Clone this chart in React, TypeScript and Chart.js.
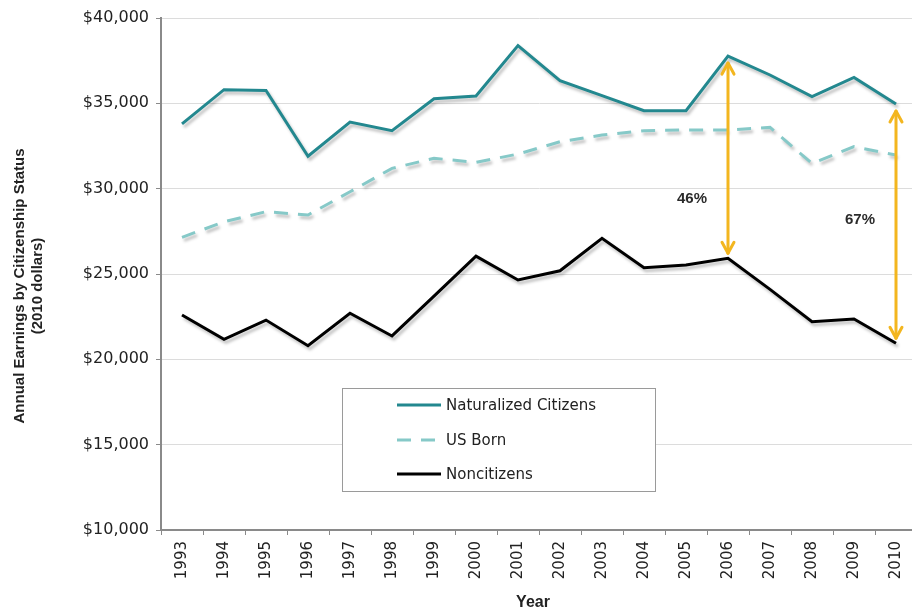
import React, { useEffect, useRef } from 'react';
import { Chart, registerables } from 'chart.js';

Chart.register(...registerables);

const years = ['1993', '1994', '1995', '1996', '1997', '1998', '1999', '2000', '2001', '2002', '2003', '2004', '2005', '2006', '2007', '2008', '2009', '2010'];
const naturalized = [33800, 35800, 35750, 31900, 33900, 33400, 35270, 35430, 38380, 36330, 35450, 34570, 34570, 37770, 36660, 35390, 36520, 34960];
const usBorn = [27150, 28060, 28650, 28460, 29820, 31190, 31780, 31540, 32030, 32750, 33140, 33400, 33440, 33440, 33590, 31480, 32460, 31970];
const noncitizens = [22600, 21170, 22300, 20800, 22700, 21370, 23700, 26050, 24650, 25190, 27090, 25370, 25530, 25920, 24100, 22200, 22360, 20940];

const gapYears = ['2006', '2010'];
const gapLabels = ['46%', '67%'];
const gapLabelValues = [29400, 28150];

const yTitleLines = ['Annual Earnings by Citizenship Status', '(2010 dollars)'];
const xTitle = 'Year';

const FONT = '"Liberation Sans", Arial, sans-serif';
const WIDE = '"DejaVu Sans", sans-serif';

const shadowPlugin = {
  id: 'shadow',
  beforeDatasetsDraw(chart: any) {
    const ctx = chart.ctx;
    ctx.save();
    ctx.shadowColor = 'rgba(0,0,0,0.25)';
    ctx.shadowOffsetX = 2;
    ctx.shadowOffsetY = 3;
    ctx.shadowBlur = 3;
  },
  afterDatasetsDraw(chart: any) {
    chart.ctx.restore();
  },
};

const decorPlugin = {
  id: 'decor',
  afterDraw(chart: any) {
    const ctx = chart.ctx;
    const xs = chart.scales.x;
    const ys = chart.scales.y;

    // gap arrows
    ctx.save();
    gapYears.forEach((yr, k) => {
      const i = years.indexOf(yr);
      const x = xs.getPixelForValue(i);
      const yTop = ys.getPixelForValue(naturalized[i]) + 7;
      const yBot = ys.getPixelForValue(noncitizens[i]) - 5;
      ctx.strokeStyle = '#f3b61f';
      ctx.lineWidth = 3;
      ctx.lineCap = 'round';
      ctx.lineJoin = 'round';
      ctx.beginPath();
      ctx.moveTo(x, yTop);
      ctx.lineTo(x, yBot);
      ctx.stroke();
      ctx.beginPath();
      ctx.moveTo(x - 6, yTop + 11);
      ctx.lineTo(x, yTop);
      ctx.lineTo(x + 6, yTop + 11);
      ctx.stroke();
      ctx.beginPath();
      ctx.moveTo(x - 6, yBot - 11);
      ctx.lineTo(x, yBot);
      ctx.lineTo(x + 6, yBot - 11);
      ctx.stroke();
      ctx.fillStyle = '#2b2b2b';
      ctx.font = `bold 15px ${FONT}`;
      ctx.textAlign = 'center';
      ctx.textBaseline = 'middle';
      ctx.fillText(gapLabels[k], x - 36, ys.getPixelForValue(gapLabelValues[k]));
    });
    ctx.restore();

    // legend box
    ctx.save();
    const bx = 342, by = 388, bw = 313, bh = 103;
    ctx.fillStyle = '#ffffff';
    ctx.fillRect(bx, by, bw, bh);
    ctx.strokeStyle = '#9a9a9a';
    ctx.lineWidth = 1;
    ctx.strokeRect(bx + 0.5, by + 0.5, bw, bh);
    const rows = [405, 440, 474];
    chart.data.datasets.forEach((ds: any, j: number) => {
      const y = rows[j];
      ctx.strokeStyle = ds.borderColor;
      ctx.lineWidth = 3;
      ctx.setLineDash(ds.borderDash || []);
      ctx.beginPath();
      ctx.moveTo(397, y);
      ctx.lineTo(441, y);
      ctx.stroke();
      ctx.setLineDash([]);
      ctx.fillStyle = '#222222';
      ctx.font = `15px ${WIDE}`;
      ctx.textAlign = 'left';
      ctx.textBaseline = 'middle';
      ctx.fillText(ds.label, 446, y + 1);
    });
    ctx.restore();

    // axis titles
    ctx.save();
    ctx.fillStyle = '#222222';
    ctx.font = `bold 15px ${FONT}`;
    ctx.textAlign = 'center';
    ctx.textBaseline = 'middle';
    ctx.translate(20, 286);
    ctx.rotate(-Math.PI / 2);
    ctx.fillText(yTitleLines[0], 0, 0);
    ctx.fillText(yTitleLines[1], 0, 18);
    ctx.restore();

    ctx.save();
    ctx.fillStyle = '#222222';
    ctx.font = `bold 16px ${FONT}`;
    ctx.textAlign = 'center';
    ctx.textBaseline = 'middle';
    ctx.fillText(xTitle, 533, 603);
    ctx.restore();
  },
};

export default function App() {
  const ref = useRef<HTMLCanvasElement>(null);

  useEffect(() => {
    if (!ref.current) return;
    const chart = new Chart(ref.current, {
      type: 'line',
      data: {
        labels: years,
        datasets: [
          {
            label: 'Naturalized Citizens',
            data: naturalized,
            borderColor: '#23888f',
            borderWidth: 3,
            pointRadius: 0,
            tension: 0,
          },
          {
            label: 'US Born',
            data: usBorn,
            borderColor: '#86c9c8',
            borderWidth: 3,
            borderDash: [14, 10],
            pointRadius: 0,
            tension: 0,
          },
          {
            label: 'Noncitizens',
            data: noncitizens,
            borderColor: '#000000',
            borderWidth: 3,
            pointRadius: 0,
            tension: 0,
          },
        ],
      },
      plugins: [shadowPlugin, decorPlugin],
      options: {
        animation: false,
        responsive: false,
        devicePixelRatio: 1,
        layout: { padding: { top: 18, left: 0, right: 0, bottom: 0 } },
        plugins: {
          legend: { display: false },
          tooltip: { enabled: false },
          title: { display: false },
        },
        scales: {
          x: {
            type: 'category',
            offset: true,
            grid: {
              offset: true,
              drawOnChartArea: false,
              drawTicks: true,
              tickLength: 5,
              color: '#8a8a8a',
              lineWidth: 1,
            },
            border: { display: true, color: '#8a8a8a', width: 2 },
            ticks: {
              minRotation: 90,
              maxRotation: 90,
              autoSkip: false,
              padding: 6,
              color: '#222222',
              font: { family: WIDE, size: 15 },
            },
            afterFit: (s: any) => {
              s.height = 83;
            },
          },
          y: {
            min: 10000,
            max: 40000,
            grid: {
              color: '#dcdcdc',
              lineWidth: 1,
              drawTicks: true,
              tickLength: 5,
              tickColor: '#8a8a8a',
            },
            border: { display: true, color: '#8a8a8a', width: 2 },
            ticks: {
              stepSize: 5000,
              padding: 7,
              color: '#222222',
              font: { family: WIDE, size: 16 },
              callback: (v: any) => '$' + Number(v).toLocaleString('en-US'),
            },
            afterFit: (s: any) => {
              s.width = 161;
            },
          },
        },
      },
    });
    return () => chart.destroy();
  }, []);

  return (
    <div style={{ position: 'absolute', left: 0, top: 0, width: 912, height: 613, overflow: 'hidden', background: '#ffffff' }}>
      <canvas ref={ref} width={920} height={613} style={{ display: 'block' }} />
    </div>
  );
}
